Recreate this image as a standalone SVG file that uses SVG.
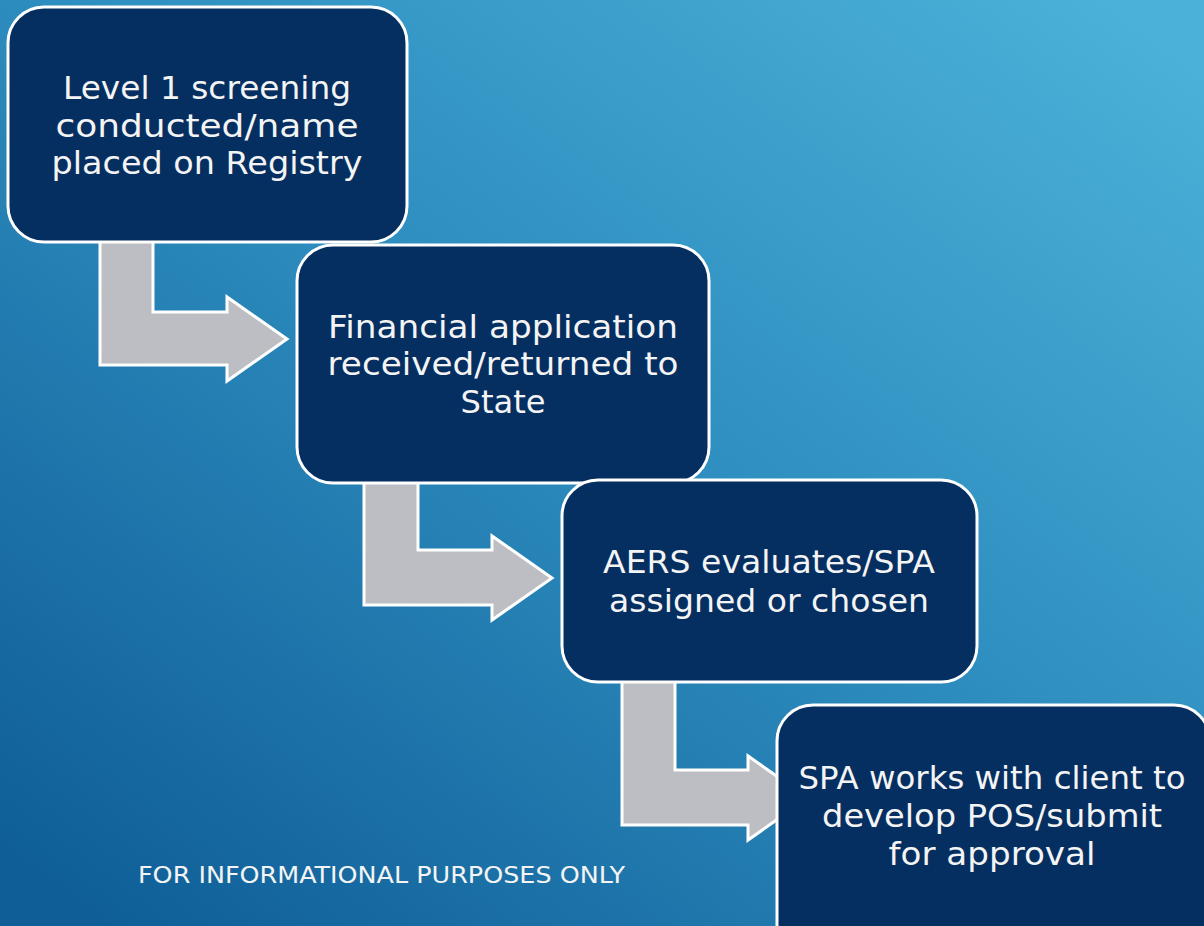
<svg xmlns="http://www.w3.org/2000/svg" width="1204" height="926" viewBox="0 0 1204 926">
  <defs>
    <linearGradient id="bg" gradientUnits="userSpaceOnUse" x1="1000" y1="-80" x2="200" y2="1000">
      <stop offset="0" stop-color="#4BB1D8"/>
      <stop offset="0.45" stop-color="#2F8FC0"/>
      <stop offset="1" stop-color="#0F5E97"/>
    </linearGradient>
    <style>
      .box { fill: #062F61; stroke: #FFFFFF; stroke-width: 3; }
      .arrow { fill: #BDBEC4; stroke: #FFFFFF; stroke-width: 3; stroke-linejoin: miter; }
      .label { font-family: "DejaVu Sans", "Liberation Sans", sans-serif; font-size: 32px; fill: #F4F4F4; text-anchor: middle; }
      .note { font-family: "DejaVu Sans", "Liberation Sans", sans-serif; font-size: 23px; fill: #F4F4F4; }
    </style>
  </defs>

  <!-- background -->
  <rect x="0" y="0" width="1204" height="926" fill="url(#bg)"/>

  <!-- bent arrows leading from one step to the next -->
  <g id="connectors">
    <path class="arrow" d="M100,241 L153,241 L153,312 L227,312 L227,297 L287,339 L227,381 L227,365 L100,365 Z"/>
    <path class="arrow" d="M364,481 L418,481 L418,550 L492,550 L492,536 L552,578 L492,620 L492,605 L364,605 Z"/>
    <path class="arrow" d="M622,681 L675,681 L675,770 L748,770 L748,756 L808,798 L748,840 L748,825 L622,825 Z"/>
  </g>

  <g id="step1">
    <rect class="box" x="8" y="7" width="399" height="235" rx="36"/>
    <text class="label" x="207" y="99" textLength="288" lengthAdjust="spacingAndGlyphs">Level 1 screening</text>
    <text class="label" x="207" y="137" textLength="303" lengthAdjust="spacingAndGlyphs">conducted/name</text>
    <text class="label" x="207" y="174" textLength="311" lengthAdjust="spacingAndGlyphs">placed on Registry</text>
  </g>

  <g id="step2">
    <rect class="box" x="297" y="245" width="412" height="238" rx="36"/>
    <text class="label" x="503" y="338" textLength="350" lengthAdjust="spacingAndGlyphs">Financial application</text>
    <text class="label" x="503" y="375" textLength="351" lengthAdjust="spacingAndGlyphs">received/returned to</text>
    <text class="label" x="503" y="413" textLength="85" lengthAdjust="spacingAndGlyphs">State</text>
  </g>

  <g id="step3">
    <rect class="box" x="562" y="480" width="415" height="202" rx="36"/>
    <text class="label" x="769" y="573" textLength="332" lengthAdjust="spacingAndGlyphs">AERS evaluates/SPA</text>
    <text class="label" x="769" y="612" textLength="320" lengthAdjust="spacingAndGlyphs">assigned or chosen</text>
  </g>

  <g id="step4">
    <rect class="box" x="777" y="705" width="433" height="260" rx="36"/>
    <text class="label" x="992" y="789" textLength="387" lengthAdjust="spacingAndGlyphs">SPA works with client to</text>
    <text class="label" x="992" y="827" textLength="340" lengthAdjust="spacingAndGlyphs">develop POS/submit</text>
    <text class="label" x="992" y="865" textLength="207" lengthAdjust="spacingAndGlyphs">for approval</text>
  </g>

  <text class="note" x="138" y="883" textLength="487" lengthAdjust="spacingAndGlyphs">FOR INFORMATIONAL PURPOSES ONLY</text>
</svg>
